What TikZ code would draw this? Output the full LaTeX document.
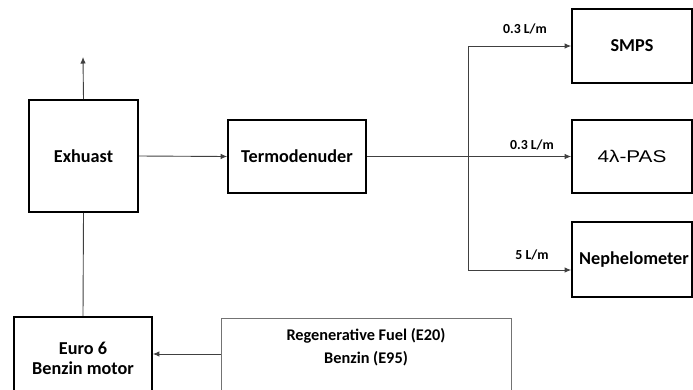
\documentclass[tikz,border=0pt]{standalone}
\usepackage{fontspec}
\setmainfont{Carlito}
\newfontfamily\arialf{Liberation Sans}
\usetikzlibrary{arrows.meta}
\begin{document}
\begin{tikzpicture}[x=1pt,y=-1pt,
  box/.style={draw=black, line width=1.7pt, rectangle, inner sep=0pt, align=center,
    font=\bfseries\fontsize{18.2}{20}\selectfont},
  conn/.style={draw=black!75, line width=0.9pt},
  arr/.style={conn, -{Latex[length=6.5pt,width=5.5pt]}},
  flow/.style={font=\bfseries\fontsize{13.8}{15}\selectfont, inner sep=0pt},
  fuelbox/.style={draw=black!55, line width=0.9pt, rectangle, inner sep=0pt}]
\useasboundingbox (0,0) rectangle (693,389);
\clip (0,0) rectangle (693,389);
\node[box, minimum width=109pt, minimum height=112pt] (exh) at (83.5,156) {Exhuast};
\node[box, minimum width=138pt, minimum height=73pt] (term) at (297,156.5) {Termodenuder};
\node[box, minimum width=120pt, minimum height=74pt] (smps) at (632,46) {SMPS};
\node[box, minimum width=120pt, minimum height=73pt, font=\arialf\fontsize{17}{20}\selectfont] (pas) at (632,156.5) {\scalebox{1.22}[1]{4λ-PAS}};
\node[box, minimum width=120pt, minimum height=75pt] (neph) at (632,259.5) {\hspace*{4pt}Nephelometer};
\node[box, minimum width=138pt, minimum height=82pt] (euro) at (83,358) {Euro 6\\Benzin motor};
\node[fuelbox, minimum width=290pt, minimum height=80pt] (fuel) at (366,358) {};
\node[align=center, inner sep=0pt, font=\bfseries\fontsize{16.3}{23}\selectfont] (fueltxt) at (366,347) {Regenerative Fuel (E20)\\Benzin (E95)};
\coordinate (up) at (83,57);
\coordinate (jt) at (468,46);
\coordinate (jb) at (468,270);
\coordinate (fa) at (221,354);
\draw[arr] (exh.north) -- (up);
\draw[arr] (exh.east) -- (term.west);
\draw[arr] (term.east) -- (pas.west);
\draw[conn] (jt) -- (jb);
\draw[arr] (jt) -- (smps.west);
\draw[arr] (jb) -- (neph.west |- jb);
\draw[conn] (exh.south) -- (euro.north);
\draw[arr] (fuel.west |- fa) -- (euro.east |- fa);
\node[flow] (l1) at (525,29) {0.3 L/m};
\node[flow] (l2) at (532,145) {0.3 L/m};
\node[flow] (l3) at (532,255) {5 L/m};
\end{tikzpicture}
\end{document}
